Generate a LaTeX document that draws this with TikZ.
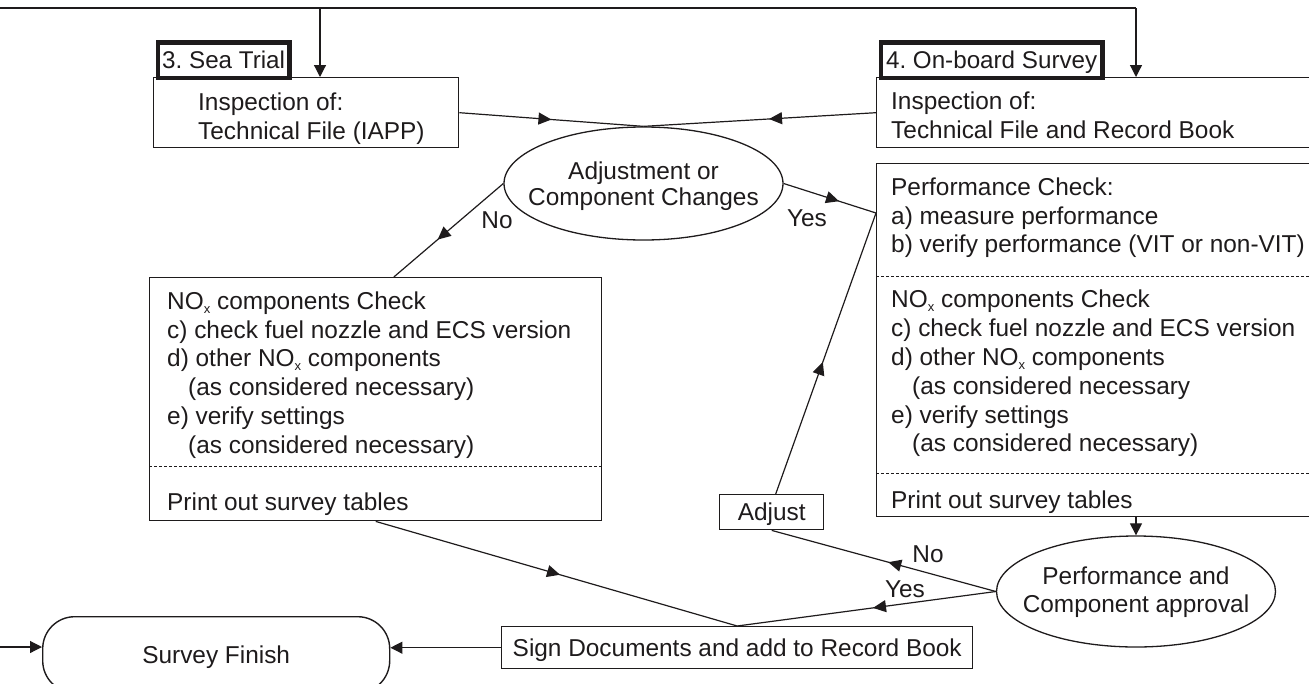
\documentclass[tikz,border=0pt]{standalone}
\usepackage{fontspec}
\setmainfont{Liberation Sans}
\usetikzlibrary{arrows.meta,shapes.geometric,calc,decorations.markings}
\definecolor{ink}{RGB}{30,27,28}
% NO with a small lowered x
\newcommand\nox{NO\raisebox{-4pt}{\fontsize{13}{13}\selectfont x}}
\tikzset{
  line/.style={draw=ink, line width=1.2pt},
  box/.style={draw=ink, line width=1.4pt, rectangle, inner sep=0pt, anchor=north west},
  onebox/.style={box, text=ink, font=\fontsize{24.4}{29}\selectfont, text height=17pt, text depth=0pt},
  tagbox/.style={draw=ink, line width=4.8pt, rectangle, inner sep=0pt, anchor=north west,
    text=ink, font=\fontsize{24.2}{29}\selectfont, text height=17pt, text depth=0pt},
  txt/.style={text=ink, inner sep=0pt, font=\fontsize{24.4}{28.8}\selectfont, align=left, anchor=north west},
  oval/.style={draw=ink, line width=1.3pt, ellipse, inner sep=0pt},
  arr/.style={-{Triangle[length=12pt,width=12pt]}},
  midarrow/.style={postaction={decorate}, decoration={markings,
    mark=at position #1 with {\arrow{Triangle[length=13pt,width=12pt]}}}},
  dashsep/.style={draw=ink, line width=0.9pt, dash pattern=on 3pt off 2pt},
}
\begin{document}
\frenchspacing
\begin{tikzpicture}[x=1pt,y=-1pt]
\useasboundingbox (0,0) rectangle (1309,683);

% section tags
\node[tagbox, minimum width=131.5pt, minimum height=35.5pt] (seaT) at (155.5,40) {3. Sea Trial};
\node[tagbox, minimum width=221.5pt, minimum height=35.5pt] (onbT) at (878.5,40) {4. On-board Survey};

% inspection boxes
\node[box, minimum width=305pt, minimum height=70pt] (insL) at (153,77) {};
\node[txt] (insLt) at (198,92.5) {Inspection of:\\Technical File (IAPP)};
\node[box, minimum width=436pt, minimum height=70pt] (insR) at (876,77) {};
\node[txt] (insRt) at (891,92) {Inspection of:\\Technical File and Record Book};

% decision ellipses
\node[oval, minimum width=279pt, minimum height=113pt] (ellA) at (643.5,183.5) {};
\node[txt, align=center, anchor=north, font=\fontsize{24.4}{26.5}\selectfont] (ellAt) at (643.5,161.5)
  {Adjustment or\\Component Changes};
\node[oval, minimum width=279pt, minimum height=111pt] (ellB) at (1136,591.5) {};
\node[txt, align=center, anchor=north, font=\fontsize{24.4}{28}\selectfont] (ellBt) at (1136,566.5)
  {Performance and\\Component approval};

% performance / components box (right)
\node[box, minimum width=436pt, minimum height=353pt] (perf) at (876,163) {};
\draw[dashsep] ($(perf.north west)+(0,113)$) -- ($(perf.north east)+(0,113)$);
\draw[dashsep] ($(perf.north west)+(0,310)$) -- ($(perf.north east)+(0,310)$);
\node[txt] (perfA) at (891,177.5) {Performance Check:\\a) measure performance\\b) verify performance (VIT or non-VIT)};
\node[txt] (perfB) at (891,290) {\nox{} components Check\\c) check fuel nozzle and ECS version\\d) other \nox{} components\\
  \hspace*{21pt}(as considered necessary\\e) verify settings\\\hspace*{21pt}(as considered necessary)};
\node[txt] (perfC) at (891,490.5) {Print out survey tables};

% components box (left)
\node[box, minimum width=452pt, minimum height=243pt] (noxL) at (149,277) {};
\draw[dashsep] ($(noxL.north west)+(0,189)$) -- ($(noxL.north east)+(0,189)$);
\node[txt] (noxLa) at (167,291.5) {\nox{} components Check\\c) check fuel nozzle and ECS version\\d) other \nox{} components\\
  \hspace*{21pt}(as considered necessary)\\e) verify settings\\\hspace*{21pt}(as considered necessary)};
\node[txt] (noxLb) at (167,493) {Print out survey tables};

% small boxes
\node[onebox, minimum width=104pt, minimum height=35pt] (adj) at (719,494) {Adjust};
\node[onebox, minimum width=471pt, minimum height=42pt] (sign) at (501,626) {Sign Documents and add to Record Book};
\node[box, rounded corners=32pt, minimum width=347pt, minimum height=76pt] (fin) at (42,616) {};
\node[txt, anchor=base] (finT) at ($(fin.center)+(0,9)$) {Survey Finish};

% branch labels
\node[txt, anchor=base] (lNoA) at (497,228) {No};
\node[txt, anchor=base] (lYesA) at (807,226) {Yes};
\node[txt, anchor=base] (lNoB) at (928,562) {No};
\node[txt, anchor=base] (lYesB) at (905,597) {Yes};

% connectors
\coordinate (topL) at (-5,8);
\coordinate (topM) at (320,8);
\coordinate (topR) at (1136,8);
\coordinate (finL) at (-5,647);
\coordinate (noxIn) at ($(noxL.north west)!0.54!(noxL.north east)$);
\coordinate (perfIn) at ($(perf.north west)+(0,50)$);
\coordinate (adjOut) at ($(adj.north)+(4,0)$);

\draw[line] (topL) -- (topR);
\draw[line,arr] (topM) -- (topM |- insL.north);
\draw[line,arr] (topR) -- (topR |- insR.north);
\draw[line,midarrow=0.5] (insL.east) -- (ellA.north);
\draw[line,midarrow=0.46] (insR.west) -- (ellA.north);
\draw[line,midarrow=0.6] (ellA.west) -- (noxIn);
\draw[line,midarrow=0.6] (ellA.east) -- (perfIn);
\draw[line,midarrow=0.47] (adjOut) -- (perfIn);
\draw[line,arr] (ellB.north |- perf.south) -- (ellB.north);
\draw[line,midarrow=0.48] (ellB.west) -- (adj.south);
\draw[line,midarrow=0.475] (ellB.west) -- (sign.north);
\draw[line,midarrow=0.51] (noxL.south) -- (sign.north);
\draw[line,arr] (sign.west) -- (sign.west -| fin.east);
\draw[line,arr] (finL) -- (finL -| fin.west);
\end{tikzpicture}
\end{document}
